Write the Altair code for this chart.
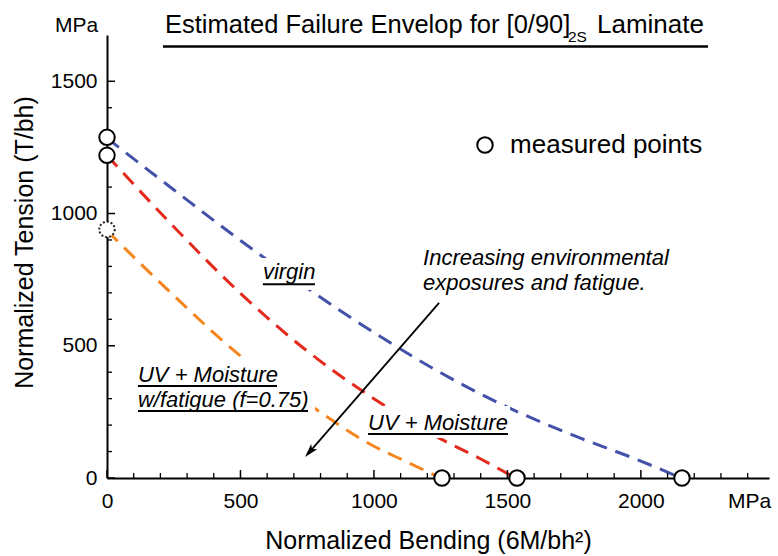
import altair as alt
import pandas as pd

W, H = 662, 443
X_MAX, Y_MAX = 2480, 1675
FONT = "Liberation Sans"

# ---- curves (normalized bending MPa, normalized tension MPa)
virgin_x = [0, 250, 500, 750, 1000, 1250, 1500, 1750, 2000, 2150]
virgin_y = [1285, 1090, 898, 718, 550, 398, 268, 160, 64, 0]
uvm_x = [0, 250, 500, 750, 1000, 1250, 1400, 1530]
uvm_y = [1220, 950, 698, 480, 300, 148, 72, 0]
fat_x = [0, 250, 500, 750, 1000, 1125, 1250]
fat_y = [935, 690, 462, 283, 120, 60, 0]

# ---- measured points
meas_x = [0, 0, 1255, 1536, 2154]
meas_y = [1288, 1220, 0, 0, 0]
est_x = [0]
est_y = [940]

# ---- ticks (values) ; tick length expressed in data units of the other axis
x_major = [0, 500, 1000, 1500, 2000]
y_major = [0, 500, 1000, 1500]
x_minor = [v for v in range(100, 2401, 100) if v % 500]
y_minor = [v for v in range(100, 1401, 100) if v % 500]
TICK_MAJ_Y, TICK_MIN_Y = 30, 19   # length of x-axis ticks (tension units)
TICK_MAJ_X, TICK_MIN_X = 30, 19   # length of y-axis ticks (bending units)

# ---- annotations (data units)
lab_text = ["virgin", "UV + Moisture", "UV + Moisture", "w/fatigue (f=0.75)"]
lab_x = [584, 978, 116, 116]
lab_y = [752, 181, 363, 268]
ul_x = [584, 978, 116, 116]
ul_x2 = [779, 1502, 637, 753]
ul_y = [733, 166, 348, 253]
box_x = [566, 966, 105]
box_x2 = [790, 1510, 779]
box_y = [711, 151, 242]
box_y2 = [832, 272, 454]
note_text = ["Increasing environmental", "exposures and fatigue."]
note_x = [1184, 1184]
note_y = [805, 711]
arrow_x = [1244, 760]
arrow_y = [662, 100]
legend_x = [1416]
legend_y = [1259]
legend_text_x = [1510]
legend_text_y = [1229]

xs = alt.Scale(domain=[0, X_MAX], nice=False, zero=False)
ys = alt.Scale(domain=[0, Y_MAX], nice=False, zero=False)

AX_X = alt.Axis(values=x_major, ticks=False, grid=False, domainColor="black", domainWidth=2,
                format="d", zindex=0,
                labelFont=FONT, labelFontSize=21, labelColor="black", labelPadding=12,
                labelFlush=False, labelOverlap=False,
                title="Normalized Bending (6M/bh²)", titleFont=FONT, titleFontSize=25,
                titleFontWeight="normal", titleColor="black", titleX=321, titleY=70,
                titleAlign="center", titleBaseline="alphabetic")
AX_Y = alt.Axis(values=y_major, ticks=False, grid=False, domainColor="black", domainWidth=2,
                format="d", zindex=0,
                labelFont=FONT, labelFontSize=21, labelColor="black", labelPadding=10,
                labelFlush=False, labelOverlap=False,
                title="Normalized Tension (T/bh)", titleFont=FONT, titleFontSize=25,
                titleFontWeight="normal", titleColor="black", titleX=-75, titleY=207,
                titleAngle=270, titleAlign="center", titleBaseline="alphabetic")


def XE(field="x"):
    return alt.X(f"{field}:Q", scale=xs, axis=AX_X)


def YE(field="y"):
    return alt.Y(f"{field}:Q", scale=ys, axis=AX_Y)


def curve(xv, yv, color):
    d = pd.DataFrame({"x": xv, "y": yv})
    return alt.Chart(d).mark_line(color=color, strokeWidth=3, strokeDash=[15, 9],
                                  interpolate="monotone").encode(x=XE(), y=YE())


virgin = curve(virgin_x, virgin_y, "#4352a8")
uvm = curve(uvm_x, uvm_y, "#e4291d")
fat = curve(fat_x, fat_y, "#f5861f")


# inward tick marks positioned by the scales
def xticks(vals, length, width):
    d = pd.DataFrame({"x": vals, "y": [0] * len(vals), "y2": [length] * len(vals)})
    return alt.Chart(d).mark_rule(color="black", strokeWidth=width).encode(
        x=XE(), y=YE(), y2="y2:Q")


def yticks(vals, length, width):
    d = pd.DataFrame({"y": vals, "x": [0] * len(vals), "x2": [length] * len(vals)})
    return alt.Chart(d).mark_rule(color="black", strokeWidth=width).encode(
        y=YE(), x=XE(), x2="x2:Q")


ticks = [xticks(x_major, TICK_MAJ_Y, 1.5), xticks(x_minor, TICK_MIN_Y, 1.3),
         yticks(y_major, TICK_MAJ_X, 1.5), yticks(y_minor, TICK_MIN_X, 1.3)]

boxes = alt.Chart(pd.DataFrame({"x": box_x, "x2": box_x2, "y": box_y, "y2": box_y2})).mark_rect(
    color="white").encode(x=XE(), x2="x2:Q", y=YE(), y2="y2:Q")

underlines = alt.Chart(pd.DataFrame({"x": ul_x, "x2": ul_x2, "y": ul_y})).mark_rule(
    color="black", strokeWidth=2).encode(x=XE(), x2="x2:Q", y=YE())

labels = alt.Chart(pd.DataFrame({"x": lab_x, "y": lab_y, "t": lab_text})).mark_text(
    font=FONT, fontSize=22, fontStyle="italic", align="left", baseline="alphabetic", color="black"
).encode(x=XE(), y=YE(), text="t:N")

notes = alt.Chart(pd.DataFrame({"x": note_x, "y": note_y, "t": note_text})).mark_text(
    font=FONT, fontSize=22, fontStyle="italic", align="left", baseline="alphabetic", color="black"
).encode(x=XE(), y=YE(), text="t:N")

arrow_line = alt.Chart(pd.DataFrame({"x": arrow_x, "y": arrow_y})).mark_line(
    color="black", strokeWidth=1.8).encode(x=XE(), y=YE())

arrow_head = alt.Chart(pd.DataFrame({"x": arrow_x[1:], "y": arrow_y[1:]})).mark_point(
    shape="M0,-1 L0.55,0.9 L0,0.45 L-0.55,0.9 Z", angle=221, size=216, filled=True,
    color="black", opacity=1).encode(x=XE(), y=YE())

pts = alt.Chart(pd.DataFrame({"x": meas_x + legend_x, "y": meas_y + legend_y})).mark_circle(
    size=240, fill="white", stroke="black", strokeWidth=2, opacity=1).encode(x=XE(), y=YE())

est = alt.Chart(pd.DataFrame({"x": est_x, "y": est_y})).mark_circle(
    size=240, fill="white", stroke="#222222", strokeWidth=2, strokeDash=[2, 2], opacity=1
).encode(x=XE(), y=YE())

legend_text = alt.Chart(pd.DataFrame({"x": legend_text_x, "y": legend_text_y, "t": ["measured points"]})).mark_text(
    font=FONT, fontSize=26, align="left", baseline="alphabetic", color="black"
).encode(x=XE(), y=YE(), text="t:N")


# title and unit labels (pixel positions relative to plot area)
def ptext(t, px, py, size):
    return alt.Chart(pd.DataFrame({"t": [t]})).mark_text(
        font=FONT, fontSize=size, align="left", baseline="alphabetic", color="black"
    ).encode(x=alt.value(px), y=alt.value(py), text="t:N")


title_main = ptext("Estimated Failure Envelop for [0/90]", 58, -2, 25.5)
title_sub = ptext("2S", 461, 7, 15.5)
title_end = ptext("Laminate", 490, -2, 26)
mpa_top = ptext("MPa", -52, -3, 21)
mpa_right = ptext("MPa", 621, 473, 21)
title_rule = alt.Chart(pd.DataFrame({"t": [0]})).mark_rule(color="black", strokeWidth=2.5).encode(
    x=alt.value(56), x2=alt.value(601), y=alt.value(11.5))

chart = alt.layer(
    virgin, uvm, fat, *ticks, boxes, underlines, labels, notes, arrow_line, arrow_head,
    pts, est, legend_text, title_main, title_sub, title_end, title_rule, mpa_top, mpa_right
).properties(
    width=W, height=H,
    padding={"left": 107, "top": 35, "right": 9, "bottom": 78},
    autosize=alt.AutoSizeParams(type="none"),
    background="white",
).configure_view(stroke=None)

chart.save("out.html", embed_options={"renderer": "svg", "actions": False})
